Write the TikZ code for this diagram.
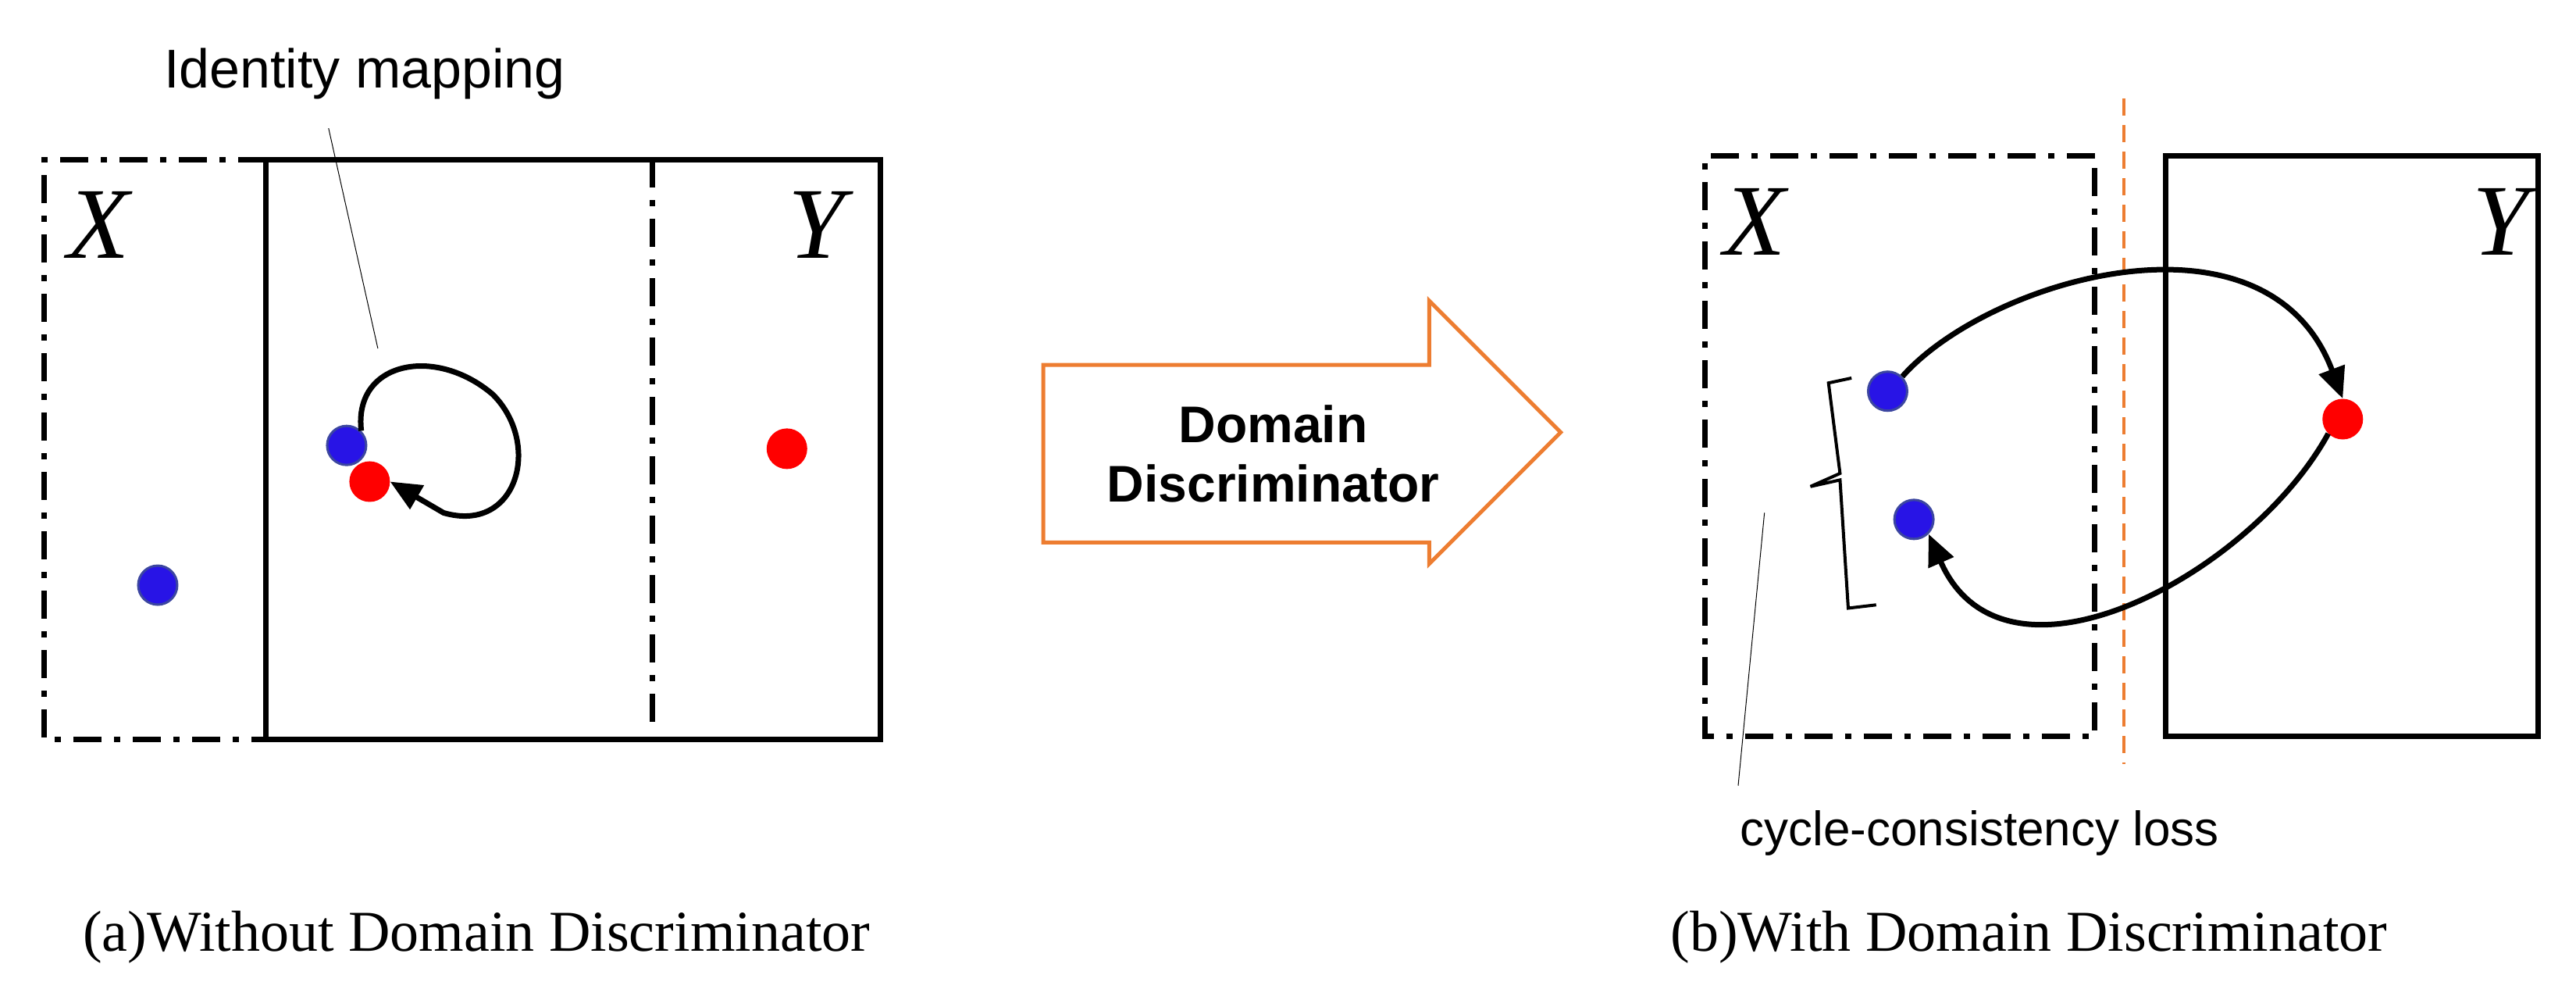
\documentclass[tikz,border=0pt]{standalone}
\usepackage{fontspec}
\setmainfont{Liberation Serif}
\newfontfamily\sansf{Liberation Sans}
\usetikzlibrary{arrows.meta,decorations.pathreplacing}
\begin{document}
\begin{tikzpicture}[x=2.104pt,y=-2.104pt,
  box/.style={line width=7pt},
  dd/.style={line width=7pt,dash pattern=on 36pt off 16pt on 8pt off 16pt},
  blue dot/.style={circle,fill={rgb,255:red,40;green,20;blue,230},draw={rgb,255:red,60;green,70;blue,160},line width=3pt,minimum size=50pt,inner sep=0pt},
  red dot/.style={circle,fill=red,minimum size=52pt,inner sep=0pt},
  arr/.style={line width=7pt,-{Triangle[length=40pt,width=34pt]}},
  lbl/.style={font=\fontsize{130}{130}\selectfont\itshape},
  sl/.style={font=\sansf\fontsize{70}{70}\selectfont},
  captxt/.style={font=\fontsize{74}{74}\selectfont}]
\useasboundingbox (0,0) rectangle (1568,597.4);
% left panel
\draw[dd] (162,97) -- (27,97) -- (27,450) -- (162,450);
\draw[box] (162,97) rectangle (536,450);
\draw[dd] (397,97) -- (397,440);
\node[lbl] (xa) at (60,137) {X};
\node[lbl] (ya) at (497,137) {Y};
\node[blue dot] (b1) at (211,271) {};
\node[red dot] (r1) at (225,293) {};
\node[blue dot] (b0) at (96,356) {};
\node[red dot] (r2) at (479,273) {};
\draw[arr] (b1.north east) .. controls (215,220) and (265,210) .. (300,240)
  .. controls (330,270) and (315,325) .. (270,312) -- (r1.east);
\node[sl] (idm) at (222,45) {Identity mapping};
\draw[line width=1pt] (200,78) -- (230,212);
% middle arrow
\draw[line width=5pt,draw={rgb,255:red,237;green,125;blue,49},line join=miter]
 (635,222) -- (870,222) -- (870,183) -- (950,263) -- (870,343) -- (870,330) -- (635,330) -- cycle;
\node[font=\sansf\bfseries\fontsize{66}{76}\selectfont,align=center] (dd) at (775,276) {Domain\\Discriminator};
% right panel
\draw[dd] (1275,95) -- (1038,95) -- (1038,448) -- (1275,448) -- (1275,95);
\draw[box] (1318,95) rectangle (1545,448);
\draw[line width=4pt,draw={rgb,255:red,237;green,125;blue,49},dash pattern=on 22pt off 12pt] (1293,60) -- (1293,465);
\node[lbl] (xb) at (1068,135) {X};
\node[lbl] (yb) at (1522,135) {Y};
\node[blue dot] (b2) at (1149,238) {};
\node[blue dot] (b3) at (1165,316) {};
\node[red dot] (r3) at (1426,255) {};
\draw[arr] (b2.north east) .. controls (1210,170) and (1380,120) .. (r3.north);
\draw[arr] (r3.south west) .. controls (1370,350) and (1220,430) .. (b3.south east);
\draw[line width=4pt] (1127,230) -- (1113,233) -- (1120,288) -- (1102,296) -- (1120,292) -- (1125,370) -- (1142,368);
\node[sl,font=\sansf\fontsize{62}{62}\selectfont] (cyc) at (1205,507) {cycle-consistency loss};
\draw[line width=1pt] (1058,478) -- (1074,312);
\node[captxt] (ca) at (290,570) {(a)Without Domain Discriminator};
\node[captxt] (cb) at (1235,570) {(b)With Domain Discriminator};
\end{tikzpicture}
\end{document}
